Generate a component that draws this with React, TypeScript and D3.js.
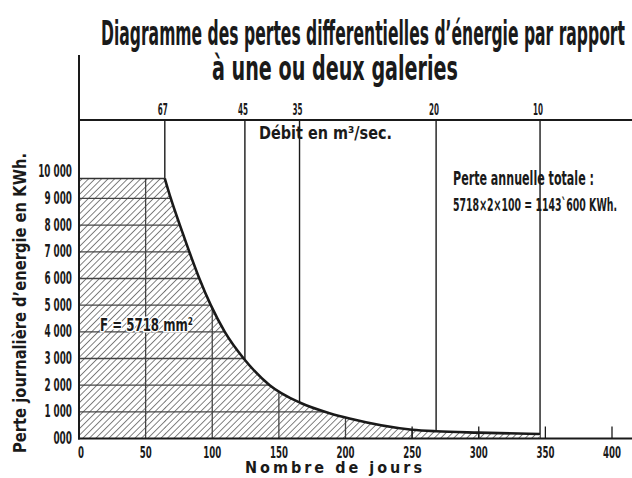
import React from 'react';
import * as d3 from 'd3';

// courbe des pertes (jours -> KWh par jour)
const curveDays = [64.4, 68.9, 75.7, 82.8, 90.3, 98.9, 109.4, 123.6, 143.1, 166, 188, 203, 250, 268, 300, 346];
const curveLoss = [9750, 9000, 8000, 7000, 6000, 5000, 4000, 3000, 2000, 1340, 950, 750, 330, 270, 220, 170];
const plateauLoss = 9750;

// débits (m3/sec) sur l'axe du haut
const flowValues = [67, 45, 35, 20, 10];
const flowDays = [64.4, 124.5, 165.5, 268, 346];

const xTicks = [0, 50, 100, 150, 200, 250, 300, 350, 400];
const yTicks = [0, 1000, 2000, 3000, 4000, 5000, 6000, 7000, 8000, 9000, 10000];
const yTickLabels = ['000', '1 000', '2 000', '3 000', '4 000', '5 000', '6 000', '7 000', '8 000', '9 000', '10 000'];

const FONT = "'DejaVu Sans Condensed', 'Liberation Sans Narrow', sans-serif";
const INK = '#1a1a1a';

const W = 632;
const H = 478;

const lw = (s: string, digit = 6, space = 3) =>
  s.split('').reduce((a, c) => a + (c === ' ' ? space : digit), 0);

export default function App() {
  const x = d3.scaleLinear().domain([0, 400]).range([79, 612]);
  const y = d3.scaleLinear().domain([0, 10000]).range([438.5, 171.8]);
  const topY = 120;

  const pts = curveDays.map((d, i) => [d, curveLoss[i]] as [number, number]);
  const area = d3.area<[number, number]>()
    .x(d => x(d[0]))
    .y0(y(0))
    .y1(d => y(d[1]))
    .curve(d3.curveMonotoneX);
  const line = d3.line<[number, number]>()
    .x(d => x(d[0]))
    .y(d => y(d[1]))
    .curve(d3.curveMonotoneX);

  const areaPath = area(pts) || '';
  const curvePath = line(pts) || '';
  const plateau = { x: x(0), y: y(plateauLoss), w: x(curveDays[0]) - x(0), h: y(0) - y(plateauLoss) };

  return (
    <svg width={W} height={H} style={{ position: 'absolute', left: 0, top: 0, display: 'block', background: '#fff' }} fontFamily={FONT}>
      <defs>
        <pattern id="hatch" patternUnits="userSpaceOnUse" width={4.6} height={4.6} patternTransform="rotate(45)">
          <line x1={0} y1={0} x2={0} y2={4.6} stroke="#2e2e2e" strokeWidth={1.2} />
        </pattern>
        <clipPath id="areaClip">
          <rect x={plateau.x} y={plateau.y} width={plateau.w + 1} height={plateau.h} />
          <path d={areaPath} />
        </clipPath>
      </defs>

      {/* titre */}
      <text x={101} y={45} fontSize={33} fontWeight="bold" textLength={524} lengthAdjust="spacingAndGlyphs" fill={INK}>
        Diagramme des pertes differentielles d’énergie par rapport
      </text>
      <text x={212} y={80} fontSize={33} fontWeight="bold" textLength={246} lengthAdjust="spacingAndGlyphs" fill={INK}>
        à une ou deux galeries
      </text>

      {/* lignes des débits */}
      {flowDays.map((d, i) => (
        <line key={'q' + i} x1={x(d)} x2={x(d)} y1={topY} y2={y(0)} stroke={INK} strokeWidth={1.4} />
      ))}
      {flowDays.map((d, i) => {
        const s = String(flowValues[i]);
        return (
          <text key={'ql' + i} x={x(d) - 2} y={115} fontSize={16} fontWeight="bold" textAnchor="middle"
            textLength={lw(s, 5)} lengthAdjust="spacingAndGlyphs" fill={INK}>{s}</text>
        );
      })}

      {/* surface hachurée */}
      <rect x={plateau.x} y={plateau.y} width={plateau.w + 0.5} height={plateau.h} fill="#fff" />
      <path d={areaPath} fill="#fff" />
      <rect x={plateau.x} y={plateau.y} width={plateau.w + 0.5} height={plateau.h} fill="url(#hatch)" />
      <path d={areaPath} fill="url(#hatch)" />
      <g clipPath="url(#areaClip)" stroke="#444" strokeWidth={1.3}>
        {yTicks.slice(1, -1).map(v => (
          <line key={'gy' + v} x1={x(0)} x2={x(400)} y1={y(v)} y2={y(v)} />
        ))}
        {xTicks.slice(1).map(v => (
          <line key={'gx' + v} x1={x(v)} x2={x(v)} y1={y(10000)} y2={y(0)} />
        ))}
      </g>
      <line x1={plateau.x} x2={plateau.x + plateau.w} y1={plateau.y} y2={plateau.y} stroke="#333" strokeWidth={1.5} />
      <path d={curvePath} fill="none" stroke={INK} strokeWidth={2.6} />

      {/* axes */}
      <line x1={78} x2={W} y1={topY} y2={topY} stroke={INK} strokeWidth={2} />
      <line x1={79} x2={79} y1={55} y2={y(0) + 1} stroke={INK} strokeWidth={2} />
      <line x1={78} x2={W} y1={y(0)} y2={y(0)} stroke={INK} strokeWidth={2} />
      {xTicks.slice(5).map(v => (
        <line key={'tk' + v} x1={x(v)} x2={x(v)} y1={y(0)} y2={y(0) - 12} stroke={INK} strokeWidth={1.3} />
      ))}

      {/* graduations */}
      {xTicks.map(v => {
        const s = String(v);
        return (
          <text key={'xl' + v} x={x(v) + (v === 0 ? 2 : 0)} y={458} fontSize={16} fontWeight="bold" textAnchor="middle"
            textLength={lw(s, 6)} lengthAdjust="spacingAndGlyphs" fill={INK}>{s}</text>
        );
      })}
      {yTicks.map((v, i) => {
        const s = yTickLabels[i];
        return (
          <text key={'yl' + v} x={72} y={y(v) + 5.5} fontSize={17} fontWeight="bold" textAnchor="end"
            textLength={lw(s, 6.2, 2.8)} lengthAdjust="spacingAndGlyphs" fill={INK}>{s}</text>
        );
      })}

      {/* légendes des axes */}
      <text x={245} y={473} fontSize={16} fontWeight="bold" textLength={177} lengthAdjust="spacing" fill={INK}>Nombre de jours</text>
      <text transform="translate(26,453) rotate(-90)" fontSize={17} fontWeight="bold" textLength={300} lengthAdjust="spacingAndGlyphs" fill={INK}>
        Perte journalière d’energie en KWh.
      </text>
      <text x={259} y={139} fontSize={17} fontWeight="bold" textLength={133} lengthAdjust="spacingAndGlyphs" fill={INK}>
        Débit en m³/sec.
      </text>

      {/* annotations */}
      <text x={100} y={331} fontSize={18} fontWeight="bold" textLength={93} lengthAdjust="spacingAndGlyphs" fill={INK}
        stroke="#fff" strokeWidth={3} paintOrder="stroke">F = 5718 mm²</text>
      <text x={453} y={185} fontSize={20} fontWeight="bold" textLength={141} lengthAdjust="spacingAndGlyphs" fill={INK}>
        Perte annuelle totale :
      </text>
      <text x={453} y={211} fontSize={18} fontWeight="bold" textLength={164} lengthAdjust="spacingAndGlyphs" fill={INK}>
        5718×2×100 = 1143ˋ600 KWh.
      </text>
    </svg>
  );
}
